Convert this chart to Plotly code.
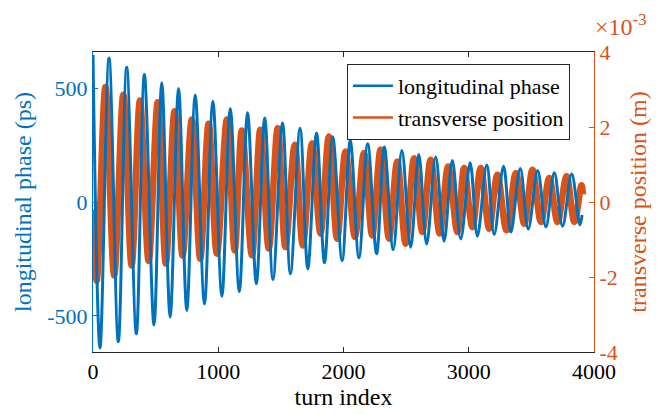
import plotly.graph_objects as go

# ---- data (extrema of each oscillation) ----
long_turn = [0, 56, 128, 202, 269, 346, 410, 487, 549, 616, 683, 749, 816, 890, 957, 1029,
             1096, 1168, 1234, 1304, 1371, 1437, 1513, 1576, 1653, 1715, 1785, 1848, 1914,
             1989, 2054, 2123, 2193, 2264, 2326, 2397, 2466, 2536, 2601, 2664, 2736, 2803,
             2869, 2936, 3011, 3069, 3144, 3203, 3278, 3336, 3411, 3475, 3550, 3616, 3683,
             3749, 3822, 3887, 3905]
long_phase = [645, -640, 632, -613, 591, -578, 559, -539, 523, -505, 498, -476, 469, -447,
              442, -413, 409, -393, 391, -359, 369, -340, 347, -315, 323, -293, 303, -267,
              286, -257, 270, -245, 255, -227, 241, -209, 226, -198, 208, -184, 197, -172,
              182, -162, 172, -150, 162, -143, 157, -132, 147, -118, 138, -110, 128, -106,
              123, -100, -57]

trans_turn = [0, 30, 99, 169, 242, 308, 375, 444, 517, 581, 651, 715, 789, 856, 923, 989,
              1069, 1131, 1189, 1269, 1336, 1403, 1475, 1536, 1611, 1675, 1749, 1816, 1883,
              1949, 2016, 2091, 2163, 2229, 2296, 2363, 2429, 2496, 2563, 2629, 2696, 2768,
              2835, 2909, 2963, 3029, 3096, 3163, 3229, 3301, 3376, 3443, 3509, 3576, 3643,
              3709, 3781, 3843, 3900, 3912]
trans_pos_mm = [-0.2, -2.1, 3.07, -1.96, 2.86, -1.69, 2.71, -1.57, 2.66, -1.64, 2.42, -1.43,
                2.20, -1.51, 2.09, -1.38, 2.20, -1.29, 1.91, -1.42, 1.93, -1.24, 1.97, -1.20,
                1.53, -1.16, 1.57, -0.84, 1.75, -0.98, 1.35, -0.93, 1.31, -0.89, 1.40, -0.98,
                1.08, -1.11, 1.17, -0.80, 1.13, -0.84, 0.95, -0.80, 0.91, -0.67, 0.91, -0.71,
                0.73, -0.75, 0.77, -0.58, 0.86, -0.53, 0.64, -0.53, 0.69, -0.53, 0.45, 0.2]
trans_pos = [v * 1e-3 for v in trans_pos_mm]

x_ticks = [0, 1000, 2000, 3000, 4000]
x_ticktext = ["0", "1000", "2000", "3000", "4000"]
left_ticks = [-500, 0, 500]
left_ticktext = ["-500", "0", "500"]
right_ticks = [-4e-3, -2e-3, 0, 2e-3, 4e-3]
right_ticktext = ["-4", "-2", "0", "2", "4"]

BLUE = "#0072BD"
ORANGE = "#D95319"
DARK = "#262626"
FONT = "Liberation Serif"
TICK_SIZE = 22
LABEL_SIZE = 24

fig = go.Figure()

# blue drawn on the overlaying axis (y2) so it sits on top, axis shown on left
fig.add_trace(go.Scatter(x=long_turn, y=long_phase, yaxis="y2", mode="lines",
                         line=dict(color=BLUE, width=3, shape="spline", smoothing=1),
                         showlegend=False, hoverinfo="skip"))
fig.add_trace(go.Scatter(x=trans_turn, y=trans_pos, yaxis="y", mode="lines",
                         line=dict(color=ORANGE, width=6.5, shape="spline", smoothing=1),
                         showlegend=False, hoverinfo="skip"))
# legend entries
fig.add_trace(go.Scatter(x=[None], y=[None], mode="lines", name="longitudinal phase",
                         line=dict(color=BLUE, width=2.5), yaxis="y2"))
fig.add_trace(go.Scatter(x=[None], y=[None], mode="lines", name="transverse position",
                         line=dict(color=ORANGE, width=2.5), yaxis="y"))

fig.update_layout(
    width=669, height=414,
    margin=dict(l=93, r=75, t=52, b=62),
    paper_bgcolor="white", plot_bgcolor="white",
    font=dict(family=FONT, size=TICK_SIZE, color=DARK),
    xaxis=dict(range=[0, 4000], tickvals=x_ticks, ticktext=x_ticktext,
               showline=True, linecolor=DARK, linewidth=1, mirror="ticks",
               ticks="inside", ticklen=5, tickcolor=DARK, showgrid=False,
               zeroline=False, tickfont=dict(size=TICK_SIZE, color="#000000"),
               title=dict(text="turn index", font=dict(size=LABEL_SIZE, color="#000000"),
                          standoff=2)),
    yaxis=dict(range=[-4e-3, 4e-3], side="right", tickvals=right_ticks,
               ticktext=right_ticktext, showline=True, linecolor=ORANGE, linewidth=1,
               ticks="inside", ticklen=5, tickcolor=ORANGE, showgrid=False, zeroline=False,
               tickfont=dict(size=TICK_SIZE, color=ORANGE),
               title=dict(text="transverse position (m)",
                          font=dict(size=LABEL_SIZE, color=ORANGE), standoff=12)),
    yaxis2=dict(range=[-658, 658], overlaying="y", side="left", tickvals=left_ticks,
                ticktext=left_ticktext, showline=True, linecolor=BLUE, linewidth=1,
                ticks="inside", ticklen=5, tickcolor=BLUE, showgrid=False, zeroline=False,
                tickfont=dict(size=TICK_SIZE, color=BLUE),
                title=dict(text="longitudinal phase (ps)",
                           font=dict(size=LABEL_SIZE, color=BLUE), standoff=8)),
    legend=dict(x=0.952, xanchor="right", y=0.96, yanchor="top",
                bgcolor="white", bordercolor=DARK, borderwidth=1,
                font=dict(family=FONT, size=22, color="#000000"),
                tracegroupgap=0, itemwidth=40),
    annotations=[dict(text="×10<sup>-3</sup>", xref="paper", yref="paper",
                      x=1.0, y=1.0, xanchor="left", yanchor="bottom", yshift=10, xshift=-1,
                      showarrow=False, font=dict(family=FONT, size=24, color=ORANGE))],
)

fig.write_html("out.html")
